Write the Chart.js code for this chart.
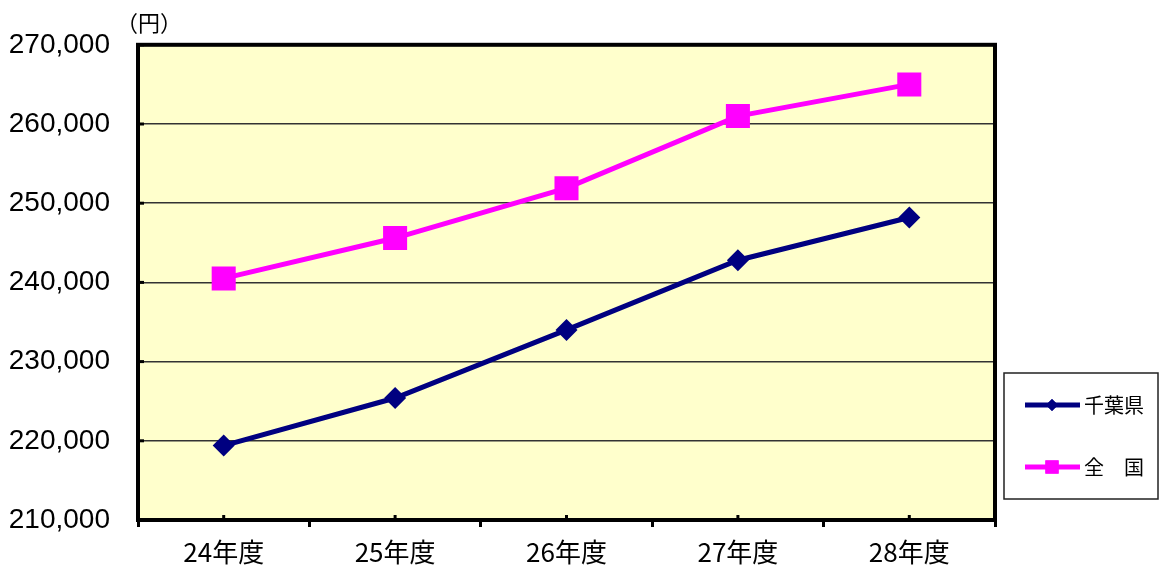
<!DOCTYPE html>
<html>
<head>
<meta charset="utf-8">
<script src="https://cdn.jsdelivr.net/npm/chart.js@4.4.0/dist/chart.umd.min.js"></script>
<style>
  html, body { margin: 0; padding: 0; background: #fff; }
  #wrap { width: 1160px; height: 568px; }
</style>
</head>
<body>
<div id="wrap"><canvas id="chart" width="1160" height="568"></canvas></div>
<script>
// --- Data ---
const years = ['24年度', '25年度', '26年度', '27年度', '28年度'];
const chiba = [219400, 225400, 234000, 242800, 248200];
const zenkoku = [240500, 245600, 251900, 261000, 265000];
const yTicks = [210000, 220000, 230000, 240000, 250000, 260000, 270000];
const seriesNames = ['千葉県', '全\u3000国'];

const jpFont = '"Noto Sans CJK JP", "Noto Sans", sans-serif';

// background + border + small inner ticks + unit label
const frame = {
  id: 'frame',
  beforeDraw(chart) {
    const { ctx, chartArea: a } = chart;
    ctx.save();
    ctx.fillStyle = '#FFFFCC';
    ctx.fillRect(a.left, a.top, a.right - a.left, a.bottom - a.top);
    ctx.restore();
  },
  afterDraw(chart) {
    const { ctx, chartArea: a, scales } = chart;
    ctx.save();
    // inner ticks at category centres
    ctx.strokeStyle = '#000';
    ctx.lineWidth = 3;
    years.forEach((y, i) => {
      const x = scales.x.getPixelForValue(i);
      ctx.beginPath();
      ctx.moveTo(x, a.bottom);
      ctx.lineTo(x, a.bottom - 5);
      ctx.stroke();
    });
    // inner ticks on y axis
    yTicks.forEach(v => {
      const y = scales.y.getPixelForValue(v);
      ctx.beginPath();
      ctx.moveTo(a.left, y);
      ctx.lineTo(a.left + 6, y);
      ctx.stroke();
    });
    // frame
    ctx.lineWidth = 4;
    ctx.strokeRect(a.left, a.top, a.right - a.left, a.bottom - a.top);
    // unit
    ctx.fillStyle = '#000';
    ctx.font = '22px ' + jpFont;
    ctx.textBaseline = 'middle';
    ctx.textAlign = 'left';
    ctx.fillText('（円）', 116, 23);
    ctx.restore();
  }
};

// legend box at right
const sideLegend = {
  id: 'sideLegend',
  afterDraw(chart) {
    const { ctx } = chart;
    ctx.save();
    ctx.strokeStyle = '#222';
    ctx.lineWidth = 1.5;
    ctx.strokeRect(1004, 373, 154, 126);
    chart.data.datasets.forEach((ds, i) => {
      const y = 405 + i * 62;
      ctx.strokeStyle = ds.borderColor;
      ctx.lineWidth = 5;
      ctx.beginPath();
      ctx.moveTo(1025, y);
      ctx.lineTo(1080, y);
      ctx.stroke();
      ctx.fillStyle = ds.backgroundColor;
      Chart.helpers.drawPoint(ctx, {
        pointStyle: ds.pointStyle,
        radius: ds.pointRadius * 0.55,
        borderWidth: 0
      }, 1052, y);
      ctx.fill();
      ctx.fillStyle = '#000';
      ctx.font = '20px ' + jpFont;
      ctx.textBaseline = 'middle';
      ctx.textAlign = 'left';
      ctx.fillText(ds.label, 1084, y);
    });
    ctx.restore();
  }
};

const ctx = document.getElementById('chart').getContext('2d');
const chart = new Chart(ctx, {
  type: 'line',
  data: {
    labels: years,
    datasets: [{
      label: seriesNames[0],
      data: chiba,
      borderColor: '#000080',
      backgroundColor: '#000080',
      borderWidth: 5,
      pointStyle: 'rectRot',
      pointRadius: 11,
      pointBorderWidth: 0,
      tension: 0
    }, {
      label: seriesNames[1],
      data: zenkoku,
      borderColor: '#FF00FF',
      backgroundColor: '#FF00FF',
      borderWidth: 5,
      pointStyle: 'rect',
      pointRadius: 17,
      pointBorderWidth: 0,
      tension: 0
    }]
  },
  options: {
    responsive: false,
    animation: false,
    layout: { padding: { top: 42, right: 165, left: 0, bottom: 0 } },
    plugins: { legend: { display: false }, tooltip: { enabled: false } },
    scales: {
      x: {
        offset: true,
        grid: { offset: true, drawOnChartArea: false, drawTicks: true, tickLength: 7, color: '#000', lineWidth: 3 },
        border: { display: false },
        ticks: { color: '#000', font: { family: jpFont, size: 26 }, padding: 10 },
        afterFit(scale) { scale.height = 48; }
      },
      y: {
        min: 210000,
        max: 270000,
        grid: { color: '#333', lineWidth: 1.5, drawTicks: false },
        border: { display: false },
        ticks: {
          stepSize: 10000,
          color: '#000',
          padding: 28,
          font: { family: '"Liberation Sans", Arial, sans-serif', size: 28 },
          callback: v => v.toLocaleString('en-US')
        },
        afterFit(scale) { scale.width = 138; }
      }
    }
  },
  plugins: [frame, sideLegend]
});
</script>
</body>
</html>
